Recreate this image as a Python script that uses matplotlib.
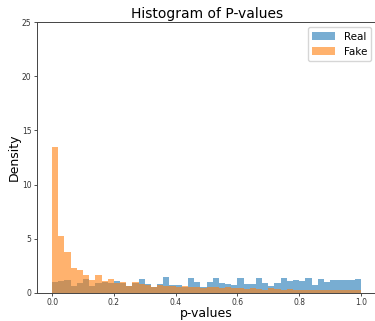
import matplotlib
matplotlib.use("Agg")
import matplotlib.pyplot as plt
import numpy as np

# 50 bins over [0, 1], density values
bin_edges = np.linspace(0.0, 1.0, 51)

real_density = [
    0.95, 1.05, 1.15, 0.60, 0.90, 1.25, 0.60, 0.90, 1.00, 0.90,
    1.10, 0.90, 0.60, 0.90, 1.30, 0.80, 0.50, 0.80, 1.50, 0.75,
    0.75, 0.55, 1.40, 0.95, 0.50, 0.95, 1.40, 0.90, 0.80, 0.75,
    1.40, 0.80, 0.80, 1.35, 0.90, 0.65, 0.90, 1.35, 1.05, 1.15,
    1.05, 1.35, 0.75, 1.30, 0.95, 1.20, 1.20, 1.15, 1.15, 1.25,
]

fake_density = [
    13.50, 5.25, 3.75, 2.30, 2.10, 1.65, 1.20, 1.60, 1.10, 1.30,
    0.90, 1.00, 0.65, 0.95, 0.80, 0.75, 0.50, 0.70, 0.60, 0.60,
    0.55, 0.60, 0.50, 0.55, 0.45, 0.50, 0.55, 0.45, 0.50, 0.40,
    0.45, 0.35, 0.40, 0.35, 0.30, 0.40, 0.35, 0.30, 0.35, 0.30,
    0.30, 0.25, 0.30, 0.25, 0.30, 0.25, 0.30, 0.25, 0.25, 0.30,
]

centers = (bin_edges[:-1] + bin_edges[1:]) / 2

fig = plt.figure(figsize=(3.75, 3.21), dpi=100)
ax = fig.add_axes([0.0987, 0.088, 0.905, 0.843])

ax.hist(centers, bins=bin_edges, weights=real_density, alpha=0.6, label="Real")
ax.hist(centers, bins=bin_edges, weights=fake_density, alpha=0.6, label="Fake")

ax.set_ylim(0, 25)
ax.set_xlim(-0.049, 1.05)
ax.set_xticks([0.0, 0.2, 0.4, 0.6, 0.8, 1.0])
ax.set_yticks([0, 5, 10, 15, 20, 25])
ax.tick_params(labelsize=5.5, length=2.5, width=0.6, pad=1.5, colors="#333333")
for s in ax.spines.values():
    s.set_linewidth(0.7)
    s.set_color("#444444")

ax.set_title("Histogram of P-values", fontsize=10, pad=3)
ax.set_xlabel("p-values", fontsize=9, labelpad=0)
ax.set_ylabel("Density", fontsize=9, labelpad=1)
ax.legend(fontsize=7.5, loc="upper right", handlelength=2.2)

fig.savefig("out.png", dpi=100)
